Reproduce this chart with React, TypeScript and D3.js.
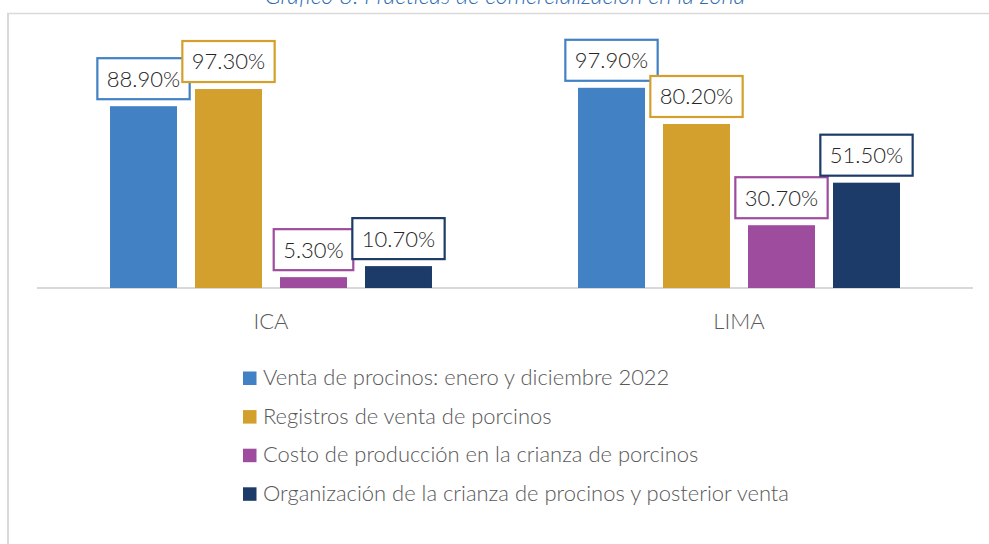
import React, { useEffect, useRef } from "react";
import * as d3 from "d3";

const categories = ["ICA", "LIMA"];
const seriesNames = [
  "Venta de procinos: enero y diciembre 2022",
  "Registros de venta de porcinos",
  "Costo de producción en la crianza de porcinos",
  "Organización de la crianza de procinos y posterior venta",
];
const seriesColors = ["#4281C4", "#D3A02D", "#9E4C9E", "#1C3B68"];
const icaValues = [88.9, 97.3, 5.3, 10.7];
const limaValues = [97.9, 80.2, 30.7, 51.5];
const title = "Gráfico 8. Prácticas de comercialización en la zona";

const W = 989;
const H = 544;
const FONT = "Lato, 'Open Sans', sans-serif";

export default function App() {
  const ref = useRef<SVGSVGElement | null>(null);

  useEffect(() => {
    const svg = d3.select(ref.current);
    svg.selectAll("*").remove();

    const valuesByCat: Record<string, number[]> = { ICA: icaValues, LIMA: limaValues };

    // frame
    svg.append("line").attr("x1", 7).attr("x2", W).attr("y1", 13.5).attr("y2", 13.5)
      .attr("stroke", "#d9d9d9").attr("stroke-width", 1.5);
    svg.append("line").attr("x1", 8).attr("x2", 8).attr("y1", 13).attr("y2", H)
      .attr("stroke", "#d9d9d9").attr("stroke-width", 2);

    // title (partly cut off at top, as in the source)
    svg.append("text").attr("x", 505).attr("y", 4).attr("text-anchor", "middle")
      .attr("font-family", FONT).attr("font-style", "italic").attr("font-weight", 300)
      .attr("font-size", 23.5).attr("fill", "#2E6DB4").text(title);

    const x0 = d3.scaleBand<string>().domain(categories).range([37, 973]).padding(0);
    const x1 = d3.scaleBand<string>().domain(seriesNames).range([0, x0.bandwidth()])
      .paddingInner(0.212).paddingOuter(0.859);
    const y = d3.scaleLinear().domain([0, 100]).range([288, 83.5]);

    // baseline
    svg.append("line").attr("x1", 37).attr("x2", 973).attr("y1", y(0)).attr("y2", y(0))
      .attr("stroke", "#d9d9d9").attr("stroke-width", 2);

    categories.forEach((cat) => {
      const g = svg.append("g").attr("transform", `translate(${x0(cat)},0)`);
      valuesByCat[cat].forEach((v, i) => {
        const s = seriesNames[i];
        const bx = x1(s)!;
        const bw = x1.bandwidth();
        g.append("rect").attr("x", bx).attr("y", y(v)).attr("width", bw)
          .attr("height", y(0) - y(v)).attr("fill", seriesColors[i]);

        const cx = bx + bw / 2;
        const boxH = 41;
        const boxBottom = y(v) - 7;
        const lbl = g.append("g");
        const rect = lbl.append("rect");
        const t = lbl.append("text").attr("x", cx).attr("y", boxBottom - boxH / 2)
          .attr("dy", "0.36em").attr("text-anchor", "middle")
          .attr("font-family", FONT).attr("font-weight", 300).attr("font-size", 22)
          .attr("fill", "#262626")
          .text(d3.format(".2f")(v) + "%");
        const tw = (t.node() as SVGTextElement).getComputedTextLength();
        const bwBox = tw + 19;
        rect.attr("x", cx - bwBox / 2).attr("y", boxBottom - boxH).attr("width", bwBox)
          .attr("height", boxH).attr("fill", "#fff").attr("stroke", seriesColors[i])
          .attr("stroke-width", 2.2);
      });
      svg.append("text").attr("x", x0(cat)! + x0.bandwidth() / 2).attr("y", 329)
        .attr("text-anchor", "middle").attr("font-family", FONT).attr("font-weight", 300)
        .attr("font-size", 22).attr("fill", "#595959").text(cat);
    });

    // legend
    const leg = svg.append("g");
    seriesNames.forEach((s, i) => {
      const by = 385 + i * 38.6;
      leg.append("rect").attr("x", 243).attr("y", by - 13.5).attr("width", 13.5)
        .attr("height", 13.5).attr("fill", seriesColors[i]);
      leg.append("text").attr("x", 263).attr("y", by).attr("font-family", FONT)
        .attr("font-weight", 300).attr("font-size", 21.95).attr("fill", "#595959").text(s);
    });
  }, []);

  return (
    <svg ref={ref} width={W} height={H}
      style={{ position: "absolute", left: 0, top: 0, background: "#fff", display: "block" }} />
  );
}
